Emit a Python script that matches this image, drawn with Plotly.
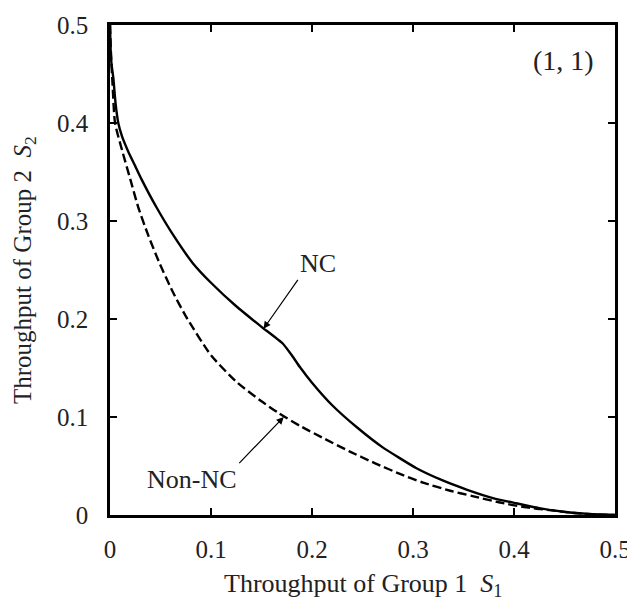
import plotly.graph_objects as go

# Data
nc_x = [0, 0.0005, 0.0015, 0.0033, 0.0055, 0.0082, 0.012, 0.018, 0.025, 0.031, 0.046, 0.063,
        0.082, 0.1, 0.125, 0.15, 0.171, 0.18, 0.188, 0.2, 0.22, 0.245, 0.27, 0.303, 0.33,
        0.353, 0.38, 0.402, 0.425, 0.451, 0.475, 0.5]
nc_y = [0.5, 0.478, 0.46, 0.446, 0.42, 0.40, 0.386, 0.371, 0.356, 0.343, 0.314, 0.285,
        0.257, 0.237, 0.213, 0.192, 0.175, 0.163, 0.151, 0.135, 0.112, 0.089, 0.069, 0.048,
        0.035, 0.026, 0.017, 0.012, 0.007, 0.003, 0.001, 0]

nonnc_x = [0, 0.001, 0.0025, 0.005, 0.012, 0.02, 0.028, 0.038, 0.049, 0.062, 0.075, 0.1,
           0.125, 0.15, 0.167, 0.188, 0.212, 0.237, 0.262, 0.287, 0.31, 0.336, 0.36, 0.385,
           0.41, 0.435, 0.46, 0.48, 0.5]
nonnc_y = [0.5, 0.47, 0.44, 0.40, 0.372, 0.343, 0.314, 0.285, 0.257, 0.228, 0.203, 0.163,
           0.136, 0.116, 0.104, 0.091, 0.078, 0.065, 0.053, 0.042, 0.033, 0.025, 0.019, 0.013,
           0.008, 0.005, 0.002, 0.0005, 0]

tick_vals = [0, 0.1, 0.2, 0.3, 0.4, 0.5]
tick_text = ["0", "0.1", "0.2", "0.3", "0.4", "0.5"]

FONT = "Liberation Serif, Times New Roman, serif"
TXT = "#222222"

fig = go.Figure()
fig.add_trace(go.Scatter(x=nc_x, y=nc_y, mode="lines", name="NC",
                         line=dict(color="black", width=2.4, shape="spline", smoothing=0.4),
                         showlegend=False))
fig.add_trace(go.Scatter(x=nonnc_x, y=nonnc_y, mode="lines", name="Non-NC",
                         line=dict(color="black", width=2.4, dash="9px,4px",
                                   shape="spline", smoothing=0.6),
                         showlegend=False))

axis_common = dict(
    range=[0, 0.5], tickvals=tick_vals, ticktext=tick_text,
    ticks="inside", ticklen=7, tickwidth=1.5, tickcolor="black",
    showline=True, linecolor="black", linewidth=2.5, mirror="allticks",
    showgrid=False, zeroline=False, ticklabeloverflow="allow",
    tickfont=dict(family=FONT, size=25, color=TXT),
)

# page body has an 8px default margin, so the figure is 8px smaller and margins shifted
fig.update_layout(
    width=627, height=599,
    margin=dict(l=102, r=19, t=4, b=92),
    paper_bgcolor="white", plot_bgcolor="white",
    xaxis=dict(**axis_common, ticklabelstandoff=10),
    yaxis=dict(**axis_common, ticklabelstandoff=14),
    font=dict(family=FONT, color=TXT),
)

ann_font = dict(family=FONT, size=26, color=TXT)
fig.add_annotation(xref="paper", yref="paper", x=0.5, y=0, yshift=-70,
                   text="Throughput of Group 1&nbsp;&nbsp;<i>S</i><sub>1</sub>",
                   showarrow=False, font=ann_font, xanchor="center", yanchor="middle")
fig.add_annotation(xref="paper", yref="paper", x=0, y=0.5, xshift=-86,
                   text="Throughput of Group 2&nbsp;&nbsp;<i>S</i><sub>2</sub>",
                   textangle=-90, showarrow=False,
                   font=dict(family=FONT, size=25, color=TXT),
                   xanchor="center", yanchor="middle")
fig.add_annotation(x=0.4486, y=0.464, text="(1, 1)", showarrow=False,
                   font=dict(family=FONT, size=28, color=TXT))

# labels with arrows: the text box corner sits at the arrow tail
fig.add_annotation(x=0.152, y=0.19, ax=0.186, ay=0.24, xref="x", yref="y",
                   axref="x", ayref="y", text="NC", font=ann_font,
                   xanchor="left", yanchor="bottom", showarrow=True,
                   arrowhead=2, arrowsize=1.2, arrowwidth=1.2, arrowcolor="black")
fig.add_annotation(x=0.172, y=0.1, ax=0.128, ay=0.053, xref="x", yref="y",
                   axref="x", ayref="y", text="Non-NC", font=ann_font,
                   xanchor="right", yanchor="top", showarrow=True,
                   arrowhead=2, arrowsize=1.2, arrowwidth=1.2, arrowcolor="black")

fig.write_html("out.html")
